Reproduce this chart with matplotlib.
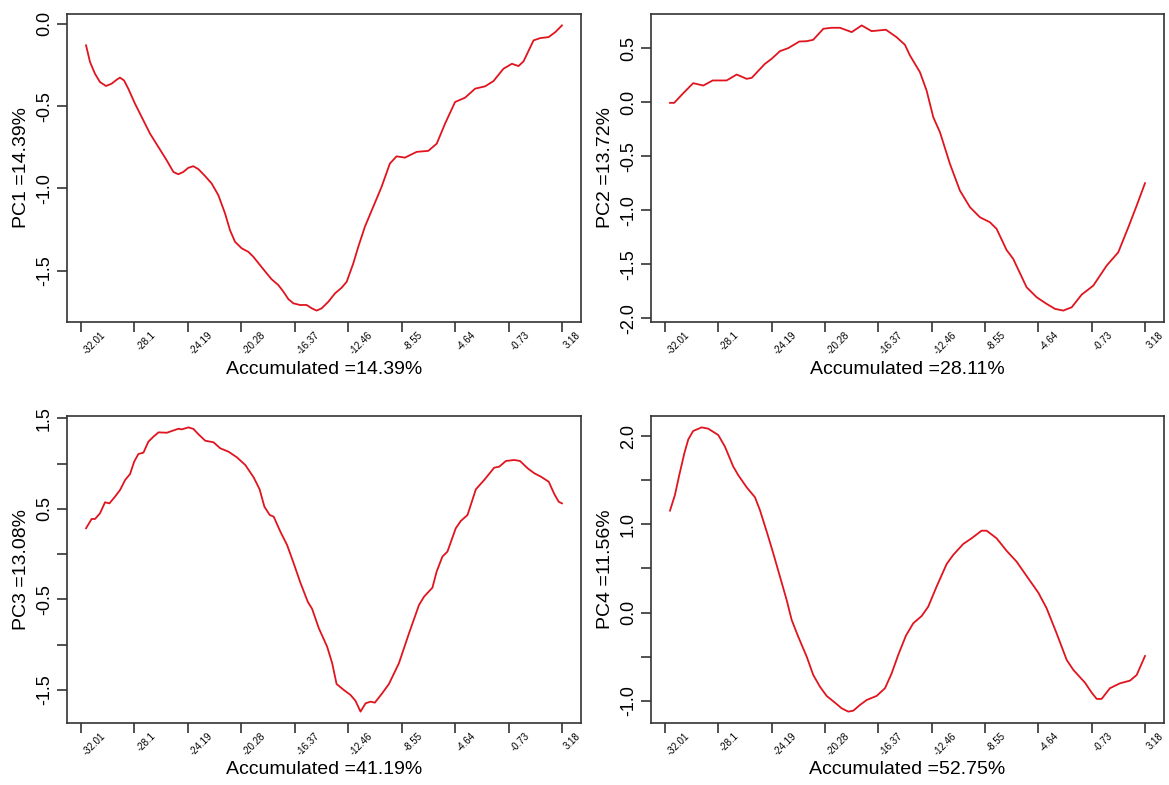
import numpy as np
import matplotlib
matplotlib.use("Agg")
import matplotlib.pyplot as plt

plt.rcParams['font.family'] = ['Liberation Sans', 'DejaVu Sans']

# x tick positions / labels shared by all panels
xtick_vals = [-32.01, -28.1, -24.19, -20.28, -16.37, -12.46, -8.55, -4.64, -0.73, 3.18]
xtick_labels = ["-32.01", "-28.1", "-24.19", "-20.28", "-16.37", "-12.46", "-8.55", "-4.64", "-0.73", "3.18"]

# PC1
pc1_x = [-31.64, -31.35, -30.99, -30.62, -30.18, -29.77, -29.40, -29.16, -28.86, -28.55,
         -28.06, -27.45, -26.96, -26.35, -25.74, -25.25, -24.89, -24.52, -24.16, -23.79,
         -23.42, -22.94, -22.45, -21.96, -21.47, -21.11, -20.74, -20.25, -19.77, -19.40,
         -18.91, -18.42, -18.06, -17.57, -17.20, -16.84, -16.47, -15.98, -15.50, -15.13,
         -14.77, -14.40, -13.91, -13.42, -12.94, -12.57, -12.09, -11.72, -11.24, -10.63,
         -10.02, -9.41, -8.92, -8.31, -7.45, -6.60, -5.98, -5.37, -4.64, -3.91,
         -3.17, -2.44, -1.83, -1.10, -0.48, 0.00, 0.37, 1.10, 1.59, 2.20,
         2.69, 3.18]
pc1_y = [-0.131, -0.232, -0.303, -0.354, -0.378, -0.364, -0.340, -0.327, -0.344, -0.394,
         -0.485, -0.586, -0.667, -0.748, -0.829, -0.900, -0.914, -0.900, -0.875, -0.865,
         -0.883, -0.924, -0.970, -1.041, -1.152, -1.253, -1.324, -1.364, -1.385, -1.415,
         -1.466, -1.516, -1.552, -1.587, -1.627, -1.672, -1.698, -1.708, -1.708, -1.728,
         -1.742, -1.728, -1.688, -1.637, -1.603, -1.567, -1.456, -1.354, -1.233, -1.112,
         -0.991, -0.849, -0.805, -0.813, -0.778, -0.772, -0.728, -0.606, -0.475, -0.449,
         -0.394, -0.380, -0.348, -0.273, -0.243, -0.257, -0.228, -0.101, -0.087, -0.081,
         -0.051, -0.010]

# PC2
pc2_x = [-31.64, -31.33, -30.67, -29.94, -29.20, -28.51, -27.49, -26.75, -26.02, -25.65,
         -24.68, -24.19, -23.58, -22.97, -22.16, -21.62, -21.14, -20.40, -19.79, -19.18,
         -18.32, -17.59, -16.86, -15.81, -15.03, -14.42, -14.05, -13.32, -12.83, -12.34,
         -11.85, -11.12, -10.39, -9.65, -8.92, -8.19, -7.70, -6.97, -6.48, -5.50,
         -4.76, -4.03, -3.42, -2.81, -2.19, -1.46, -0.61, 0.37, 1.22, 1.96,
         2.57, 3.18]
pc2_y = [-0.006, -0.006, 0.083, 0.176, 0.154, 0.201, 0.201, 0.256, 0.216, 0.225,
         0.355, 0.401, 0.472, 0.500, 0.561, 0.564, 0.577, 0.679, 0.688, 0.688,
         0.648, 0.710, 0.657, 0.670, 0.601, 0.531, 0.432, 0.278, 0.108, -0.139,
         -0.278, -0.570, -0.817, -0.971, -1.064, -1.110, -1.171, -1.366, -1.449, -1.711,
         -1.804, -1.865, -1.911, -1.927, -1.896, -1.779, -1.696, -1.511, -1.388, -1.156,
         -0.956, -0.749]

# PC3
pc3_x = [-31.64, -31.23, -30.98, -30.62, -30.25, -29.93, -29.52, -29.15, -28.78, -28.42,
         -28.12, -27.81, -27.44, -27.08, -26.71, -26.34, -25.73, -25.36, -24.88, -24.63,
         -24.14, -23.78, -23.41, -22.92, -22.31, -21.82, -21.21, -20.60, -19.99, -19.38,
         -18.94, -18.59, -18.20, -17.91, -17.42, -16.93, -16.45, -15.96, -15.42, -15.10,
         -14.61, -14.00, -13.63, -13.31, -12.78, -12.29, -11.92, -11.56, -11.19, -10.82,
         -10.51, -9.97, -9.48, -8.75, -8.01, -7.28, -6.91, -6.30, -5.99, -5.57,
         -5.20, -4.59, -4.22, -3.73, -3.12, -2.51, -1.78, -1.41, -0.92, -0.31,
         0.11, 0.67, 1.16, 1.65, 2.21, 2.62, 2.94, 3.18]
pc3_y = [0.286, 0.389, 0.389, 0.451, 0.573, 0.561, 0.635, 0.709, 0.819, 0.885,
         1.021, 1.106, 1.121, 1.242, 1.297, 1.345, 1.341, 1.360, 1.385, 1.378,
         1.400, 1.382, 1.323, 1.253, 1.235, 1.169, 1.131, 1.069, 0.985, 0.849,
         0.716, 0.524, 0.433, 0.414, 0.248, 0.101, -0.100, -0.314, -0.524, -0.604,
         -0.817, -1.021, -1.204, -1.433, -1.499, -1.554, -1.620, -1.738, -1.646, -1.628,
         -1.639, -1.535, -1.433, -1.204, -0.873, -0.561, -0.469, -0.370, -0.193, -0.027,
         0.028, 0.286, 0.367, 0.433, 0.716, 0.819, 0.955, 0.966, 1.029, 1.040,
         1.029, 0.948, 0.893, 0.855, 0.800, 0.664, 0.579, 0.561]

# PC4
pc4_x = [-31.64, -31.28, -30.96, -30.59, -30.30, -29.94, -29.32, -28.83, -28.10, -27.61,
         -27.00, -26.64, -26.02, -25.41, -25.05, -24.55, -24.07, -23.58, -23.09, -22.72,
         -22.24, -21.62, -21.14, -20.65, -20.16, -19.55, -19.06, -18.57, -18.20, -17.71,
         -17.22, -16.49, -15.88, -15.39, -14.91, -14.35, -13.81, -13.19, -12.71, -12.10,
         -11.36, -10.88, -10.15, -9.53, -8.80, -8.43, -7.70, -6.97, -6.23, -5.50,
         -4.64, -4.03, -3.30, -2.56, -2.07, -1.22, -0.73, -0.36, 0.00, 0.61,
         1.35, 2.08, 2.57, 3.18]
pc4_y = [1.155, 1.332, 1.558, 1.804, 1.962, 2.057, 2.098, 2.083, 2.011, 1.879,
         1.653, 1.558, 1.419, 1.306, 1.162, 0.917, 0.672, 0.408, 0.144, -0.083,
         -0.272, -0.498, -0.706, -0.838, -0.943, -1.019, -1.083, -1.121, -1.110, -1.045,
         -0.989, -0.943, -0.856, -0.687, -0.479, -0.262, -0.121, -0.038, 0.068, 0.294,
         0.551, 0.653, 0.777, 0.842, 0.928, 0.928, 0.842, 0.701, 0.577, 0.415,
         0.226, 0.049, -0.234, -0.536, -0.649, -0.793, -0.906, -0.977, -0.977, -0.856,
         -0.800, -0.770, -0.706, -0.491]

ylabels = ["PC1 =14.39%", "PC2 =13.72%", "PC3 =13.08%", "PC4 =11.56%"]
xlabels = ["Accumulated =14.39%", "Accumulated =28.11%",
           "Accumulated =41.19%", "Accumulated =52.75%"]

ytick_vals = [
    [0.0, -0.5, -1.0, -1.5],
    [0.5, 0.0, -0.5, -1.0, -1.5, -2.0],
    [1.5, 1.0, 0.5, 0.0, -0.5, -1.0, -1.5],
    [2.0, 1.5, 1.0, 0.5, 0.0, -0.5, -1.0],
]
ytick_labels = [
    ["0.0", "-0.5", "-1.0", "-1.5"],
    ["0.5", "0.0", "-0.5", "-1.0", "-1.5", "-2.0"],
    ["1.5", "", "0.5", "", "-0.5", "", "-1.5"],
    ["2.0", "", "1.0", "", "0.0", "", "-1.0"],
]

series = [(pc1_x, pc1_y), (pc2_x, pc2_y), (pc3_x, pc3_y), (pc4_x, pc4_y)]

W, H = 1169, 785
fig = plt.figure(figsize=(W / 100, H / 100), dpi=100)

# axes boxes in pixels: (left, top, right, bottom)
boxes = [(67, 14, 581, 322), (651, 14, 1164, 322),
         (67, 416, 581, 723), (651, 416, 1164, 723)]

line_col = '#e0141e'
box_col = '#333333'

for i, (xs, ys) in enumerate(series):
    l, t, r, b = boxes[i]
    ax = fig.add_axes([l / W, 1 - b / H, (r - l) / W, (b - t) / H])
    ax.plot(xs, ys, color=line_col, lw=1.3)
    ax.margins(x=0.04, y=0.04)

    for sp in ax.spines.values():
        sp.set_color(box_col)
        sp.set_linewidth(1.2)

    ax.set_xticks(xtick_vals)
    ax.set_xticklabels(xtick_labels, rotation=45, ha='left', va='top',
                       fontsize=7)
    ax.set_yticks(ytick_vals[i])
    ax.set_yticklabels(ytick_labels[i], rotation=90, va='center', ha='right',
                       fontsize=13)
    ax.tick_params(axis='x', length=7.5, width=1.2, color=box_col, pad=-2)
    ax.tick_params(axis='y', length=7.5, width=1.2, color=box_col, pad=2.5)

    ax.set_ylabel(ylabels[i], fontsize=14, va='center')
    ax.yaxis.set_label_coords(-45 / (r - l), 0.5)
    ax.set_xlabel(xlabels[i], fontsize=14, va='center')
    ax.xaxis.set_label_coords(0.5, -47 / (b - t))

fig.savefig("out.png", dpi=100)
